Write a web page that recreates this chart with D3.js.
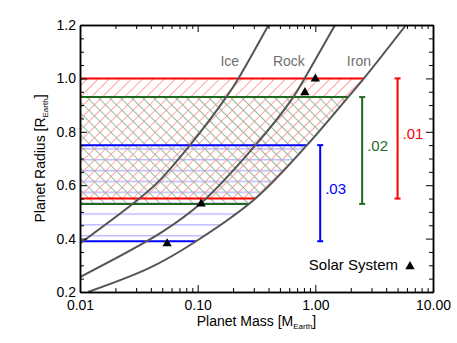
<!DOCTYPE html>
<html>
<head>
<meta charset="utf-8">
<script src="https://cdn.jsdelivr.net/npm/d3@7"></script>
<style>
  body { margin: 0; background: #fff; }
  svg { display: block; font-family: "Liberation Sans", Arial, Helvetica, sans-serif; }
</style>
</head>
<body>
<div id="chart"></div>
<script>
(function () {
    "use strict";

    /* ---- data ---- */
    // mass-radius curves, [mass (M_earth), radius (R_earth)]
    const ICE_CURVE = [[0.01, 0.382], [0.032, 0.55], [0.048, 0.62], [0.086, 0.75], [0.175, 0.93], [0.222, 1.0], [0.40, 1.2]];
    const ROCK_CURVE = [[0.01, 0.256], [0.05, 0.425], [0.107, 0.533], [0.31, 0.75], [0.65, 0.93], [0.81, 1.0], [1.47, 1.2]];
    const IRON_CURVE = [[0.0117, 0.2], [0.039, 0.29], [0.097, 0.39], [0.31, 0.55], [0.85, 0.75], [1.9, 0.93], [2.59, 1.0], [5.9, 1.2]];
    const CURVE_NAMES = ["Ice", "Rock", "Iron"];
    const CURVE_LABEL_MASS = [0.225, 0.815, 2.97];   // right end of each label
    const CURVE_LABEL_RADIUS = 1.048;

    // radius limits per noise level
    const LIMIT_LABELS = [".01", ".02", ".03"];
    const LIMIT_TOP = [1.0, 0.93, 0.75];
    const LIMIT_BOTTOM = [0.55, 0.53, 0.39];
    const LIMIT_BAR_MASS = [5.0, 2.5, 1.1];

    // solar system planets
    const PLANET_NAMES = ["Mercury", "Venus", "Earth", "Mars"];
    const PLANET_MASS = [0.055, 0.815, 1.0, 0.107];
    const PLANET_RADIUS = [0.383, 0.949, 1.0, 0.532];

    // ticks
    const X_TICKS = [0.01, 0.1, 1, 10];
    const Y_TICKS = [0.2, 0.4, 0.6, 0.8, 1.0, 1.2];
    const Y_MINOR = [0.25, 0.3, 0.35, 0.45, 0.5, 0.55, 0.65, 0.7, 0.75, 0.85, 0.9, 0.95, 1.05, 1.1, 1.15];

    /* ---- styles ---- */
    const WIDTH = 457, HEIGHT = 343;
    const M = { left: 80, right: 24, top: 25, bottom: 51 };
    const LIMIT_COLORS = ["#ff0000", "#1f6a1f", "#0000ff"];
    const HATCH_COLORS = ["#ffa0a0", "#98b998", "#bcbcff"];
    const CURVE_COLOR = "#555";
    const LABEL_GRAY = "#6f6f6f";

    const svg = d3.select("#chart").append("svg")
        .attr("width", WIDTH).attr("height", HEIGHT);

    const x = d3.scaleLog().domain([0.01, 10]).range([M.left, WIDTH - M.right]);
    const y = d3.scaleLinear().domain([0.2, 1.2]).range([HEIGHT - M.bottom, M.top]);

    const line = d3.line()
        .x(function (d) { return x(d[0]); })
        .y(function (d) { return y(d[1]); })
        .curve(d3.curveCatmullRom.alpha(0.5));

    const defs = svg.append("defs");

    /* hatch patterns: "/" red, "\" green, horizontal blue */
    function diagPattern(id, color, angle) {
        const p = defs.append("pattern")
            .attr("id", id)
            .attr("patternUnits", "userSpaceOnUse")
            .attr("width", 7.8).attr("height", 7.8)
            .attr("patternTransform", "rotate(" + angle + ")");
        p.append("line")
            .attr("x1", 0.5).attr("x2", 0.5).attr("y1", 0).attr("y2", 7.8)
            .attr("stroke", color).attr("stroke-width", 1);
    }
    diagPattern("hatch0", HATCH_COLORS[0], 45);
    diagPattern("hatch1", HATCH_COLORS[1], -45);
    const hp = defs.append("pattern")
        .attr("id", "hatch2")
        .attr("patternUnits", "userSpaceOnUse")
        .attr("y", 7.1)
        .attr("width", 20).attr("height", 10.85);
    hp.append("line")
        .attr("x1", 0).attr("x2", 20).attr("y1", 0.75).attr("y2", 0.75)
        .attr("stroke", HATCH_COLORS[2]).attr("stroke-width", 1.5);

    /* clip: left of the iron curve */
    const x0 = x.range()[0];
    defs.append("clipPath").attr("id", "leftOfIron")
        .append("path")
        .attr("d", line(IRON_CURVE) +
            "L" + (x0 - 2) + "," + y(IRON_CURVE[IRON_CURVE.length - 1][1]) +
            "L" + (x0 - 2) + "," + y(IRON_CURVE[0][1]) + "Z");

    defs.append("clipPath").attr("id", "plotArea")
        .append("rect")
        .attr("x", x0).attr("y", M.top)
        .attr("width", x.range()[1] - x0)
        .attr("height", y.range()[0] - M.top);

    /* hatched regions */
    const gHatch = svg.append("g").attr("clip-path", "url(#leftOfIron)");
    [2, 0, 1].forEach(function (i) {
        gHatch.append("rect")
            .attr("x", x0)
            .attr("y", y(LIMIT_TOP[i]))
            .attr("width", x.range()[1] - x0)
            .attr("height", y(LIMIT_BOTTOM[i]) - y(LIMIT_TOP[i]))
            .attr("fill", "url(#hatch" + i + ")");
    });
    [2, 0, 1].forEach(function (i) {
        [LIMIT_TOP[i], LIMIT_BOTTOM[i]].forEach(function (r) {
            gHatch.append("line")
                .attr("x1", x0).attr("x2", x.range()[1])
                .attr("y1", y(r)).attr("y2", y(r))
                .attr("stroke", LIMIT_COLORS[i]).attr("stroke-width", 2);
        });
    });

    /* mass-radius curves */
    const gCurves = svg.append("g").attr("clip-path", "url(#plotArea)");
    [ICE_CURVE, ROCK_CURVE, IRON_CURVE].forEach(function (c) {
        gCurves.append("path")
            .attr("d", line(c))
            .attr("fill", "none")
            .attr("stroke", CURVE_COLOR)
            .attr("stroke-width", 2);
    });
    CURVE_NAMES.forEach(function (n, i) {
        svg.append("text")
            .attr("x", x(CURVE_LABEL_MASS[i]))
            .attr("y", y(CURVE_LABEL_RADIUS))
            .attr("text-anchor", "end")
            .attr("font-size", 14)
            .attr("fill", LABEL_GRAY)
            .text(n);
    });

    /* error bars */
    LIMIT_LABELS.forEach(function (lab, i) {
        const g = svg.append("g").attr("stroke", LIMIT_COLORS[i]).attr("stroke-width", 2);
        const bx = x(LIMIT_BAR_MASS[i]);
        g.append("line").attr("x1", bx).attr("x2", bx)
            .attr("y1", y(LIMIT_TOP[i])).attr("y2", y(LIMIT_BOTTOM[i]));
        [LIMIT_TOP[i], LIMIT_BOTTOM[i]].forEach(function (r) {
            g.append("line").attr("x1", bx - 3).attr("x2", bx + 3)
                .attr("y1", y(r)).attr("y2", y(r));
        });
        svg.append("text")
            .attr("x", bx + 5)
            .attr("y", (y(LIMIT_TOP[i]) + y(LIMIT_BOTTOM[i])) / 2 + 1)
            .attr("font-size", 15)
            .attr("fill", LIMIT_COLORS[i])
            .text(lab);
    });

    /* planets */
    const tri = d3.symbol().type(d3.symbolTriangle).size(38);
    svg.append("g").selectAll("path")
        .data(PLANET_NAMES)
        .enter().append("path")
        .attr("d", tri)
        .attr("transform", function (d, i) {
            return "translate(" + x(PLANET_MASS[i]) + "," + (y(PLANET_RADIUS[i]) + 0.5) + ")";
        })
        .attr("fill", "#000");

    svg.append("text")
        .attr("x", 398).attr("y", 269.5)
        .attr("text-anchor", "end")
        .attr("font-size", 15)
        .text("Solar System");
    svg.append("path")
        .attr("d", tri)
        .attr("transform", "translate(410,266.5)")
        .attr("fill", "#000");

    /* axes */
    const xMinor = [];
    [0.01, 0.1, 1].forEach(function (d) {
        for (let k = 2; k <= 9; k++) xMinor.push(d * k);
    });
    const fmtX = d3.format(".2f"), fmtY = d3.format(".1f");
    const bottom = y.range()[0], right = x.range()[1];

    function styleAxis(g) {
        g.select(".domain").attr("stroke", "#000").attr("stroke-width", 1.5);
        g.selectAll(".tick line").attr("stroke", "#000").attr("stroke-width", 1);
        g.selectAll("text").attr("font-size", 14).attr("fill", "#000")
            .attr("font-family", "Liberation Sans, Arial, Helvetica, sans-serif");
    }

    svg.append("g").attr("transform", "translate(0," + bottom + ")")
        .call(d3.axisBottom(x).tickValues(X_TICKS).tickFormat(fmtX).tickSize(-7).tickSizeOuter(0).tickPadding(8))
        .call(styleAxis);
    svg.append("g").attr("transform", "translate(0," + bottom + ")")
        .call(d3.axisBottom(x).tickValues(xMinor).tickFormat("").tickSize(-4).tickSizeOuter(0))
        .call(styleAxis);
    svg.append("g").attr("transform", "translate(0," + M.top + ")")
        .call(d3.axisTop(x).tickValues(X_TICKS).tickFormat("").tickSize(-7).tickSizeOuter(0))
        .call(styleAxis);
    svg.append("g").attr("transform", "translate(0," + M.top + ")")
        .call(d3.axisTop(x).tickValues(xMinor).tickFormat("").tickSize(-4).tickSizeOuter(0))
        .call(styleAxis);

    svg.append("g").attr("transform", "translate(" + x0 + ",0)")
        .call(d3.axisLeft(y).tickValues(Y_TICKS).tickFormat(fmtY).tickSize(-7).tickSizeOuter(0).tickPadding(4))
        .call(styleAxis);
    svg.append("g").attr("transform", "translate(" + x0 + ",0)")
        .call(d3.axisLeft(y).tickValues(Y_MINOR).tickFormat("").tickSize(-4).tickSizeOuter(0))
        .call(styleAxis);
    svg.append("g").attr("transform", "translate(" + right + ",0)")
        .call(d3.axisRight(y).tickValues(Y_TICKS).tickFormat("").tickSize(-7).tickSizeOuter(0))
        .call(styleAxis);
    svg.append("g").attr("transform", "translate(" + right + ",0)")
        .call(d3.axisRight(y).tickValues(Y_MINOR).tickFormat("").tickSize(-4).tickSizeOuter(0))
        .call(styleAxis);

    /* axis titles */
    const xt = svg.append("text")
        .attr("x", (x0 + right) / 2).attr("y", 326)
        .attr("text-anchor", "middle")
        .attr("font-size", 14);
    xt.append("tspan").text("Planet Mass [M");
    xt.append("tspan").attr("font-size", 8).attr("dy", 3).text("Earth");
    xt.append("tspan").attr("dy", -3).text("]");

    const yt = svg.append("text")
        .attr("transform", "translate(45," + (M.top + bottom) / 2 + ") rotate(-90)")
        .attr("text-anchor", "middle")
        .attr("font-size", 14);
    yt.append("tspan").text("Planet Radius [R");
    yt.append("tspan").attr("font-size", 8).attr("dy", 3).text("Earth");
    yt.append("tspan").attr("dy", -3).text("]");
})();
</script>
</body>
</html>
